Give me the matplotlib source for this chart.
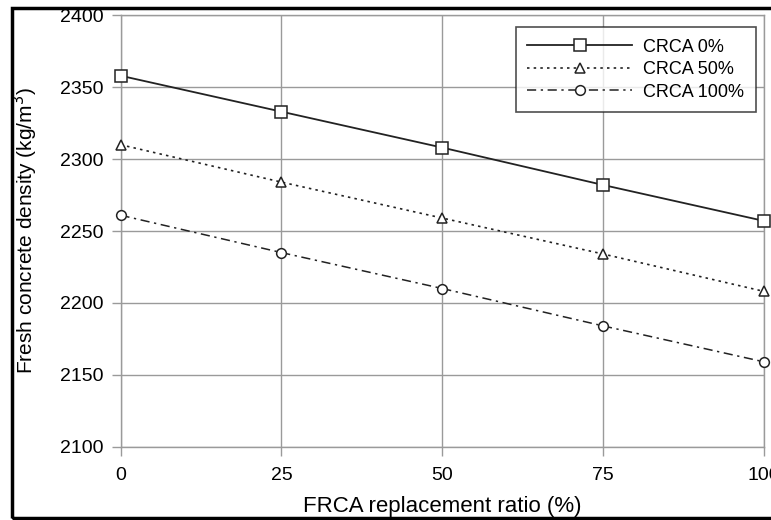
import matplotlib
matplotlib.use("Agg")
import matplotlib.pyplot as plt
from matplotlib.patches import Rectangle

plt.rcParams['font.family'] = ['Liberation Sans', 'DejaVu Sans']

x = [0, 25, 50, 75, 100]
crca0 = [2358, 2333, 2308, 2282, 2257]
crca50 = [2310, 2284, 2259, 2234, 2208]
crca100 = [2261, 2235, 2210, 2184, 2159]
labels = ['CRCA 0%', 'CRCA 50%', 'CRCA 100%']
xticks = [0, 25, 50, 75, 100]
yticks = [2100, 2150, 2200, 2250, 2300, 2350, 2400]

W, H = 771, 520
fig = plt.figure(figsize=(W/100, H/100), dpi=100)
ax_l, ax_r, ax_t, ax_b = 120.5, 764, 15.3, 446.7
ax = fig.add_axes([ax_l/W, 1 - ax_b/H, (ax_r - ax_l)/W, (ax_b - ax_t)/H])

gc = '#9a9a9a'
ax.plot(x, crca0, color='#222222', lw=1.3, ls='-', marker='s', ms=8,
        mfc='white', mec='#222222', mew=1.1, label=labels[0], clip_on=False, zorder=3)
ax.plot(x, crca50, color='#222222', lw=1.2, ls=(0, (1.5, 2.5)), marker='^', ms=7,
        mfc='white', mec='#222222', mew=1.1, label=labels[1], clip_on=False, zorder=3)
ax.plot(x, crca100, color='#222222', lw=1.1, ls=(0, (6, 3, 1.5, 3)), marker='o', ms=7,
        mfc='white', mec='#222222', mew=1.1, label=labels[2], clip_on=False, zorder=3)

ax.set_xlim(0, 100)
ax.set_ylim(2100, 2400)
ax.set_xticks(xticks)
ax.set_yticks(yticks)
ax.grid(True, color=gc, lw=1)
for s in ax.spines.values():
    s.set_color(gc)
    s.set_linewidth(1)
ax.tick_params(axis='both', length=6.5, width=1, color=gc, labelsize=14)
ax.tick_params(axis='y', pad=6)
ax.tick_params(axis='x', pad=8)
ax.set_xlabel('FRCA replacement ratio (%)', fontsize=16, labelpad=9)
ax.set_ylabel('Fresh concrete density (kg/m$^3$)', fontsize=15, labelpad=14)

leg = ax.legend(loc='upper left',
                bbox_to_anchor=((515.7 - ax_l)/(ax_r - ax_l), 1 - (27 - ax_t)/(ax_b - ax_t)),
                borderaxespad=0, fontsize=13, frameon=True, fancybox=False, edgecolor='#222222',
                handlelength=5.8, borderpad=0.65, labelspacing=0.3, handletextpad=0.6)
leg.get_frame().set_linewidth(1.2)

fig.patches.append(Rectangle((12/W, 2/H), 1.5, 1 - 10/H, transform=fig.transFigure,
                             fill=False, edgecolor='black', lw=2.5))

fig.savefig('out.png', dpi=100)
